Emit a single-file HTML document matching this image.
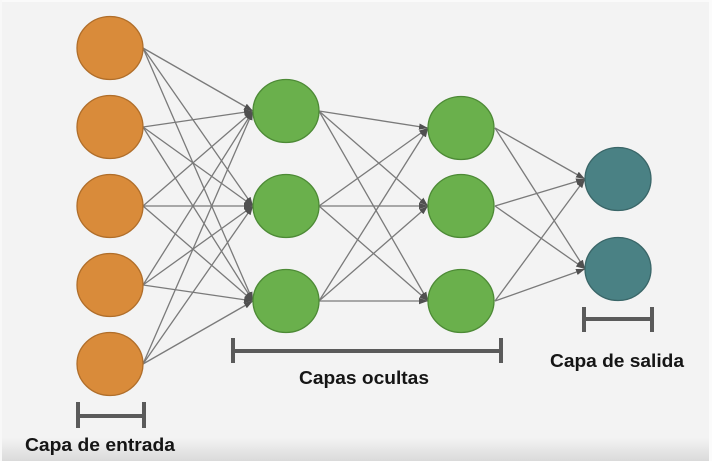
<!DOCTYPE html>
<html><head><meta charset="utf-8"><style>
html,body{margin:0;padding:0;background:#f3f3f3;}
svg{display:block;}
text{font-family:"Liberation Sans",Arial,sans-serif;font-weight:bold;font-size:18px;fill:#151515;}
</style></head><body>
<svg width="712" height="461" viewBox="0 0 712 461" xmlns="http://www.w3.org/2000/svg">
<defs>
<linearGradient id="bg" x1="0" y1="0" x2="0" y2="1">
<stop offset="0" stop-color="#f3f3f3"/><stop offset="1" stop-color="#dadada"/>
</linearGradient>
<marker id="ah" markerUnits="userSpaceOnUse" markerWidth="10" markerHeight="8" refX="9" refY="4" orient="auto">
<path d="M0,0.8 L9,4 L0,7.2 Z" fill="#505050"/>
</marker>
</defs>
<rect width="712" height="461" fill="#f3f3f3"/>
<rect x="0" y="438" width="712" height="23" fill="url(#bg)"/>
<rect x="0" y="0" width="712" height="2" fill="#fafafa"/>
<rect x="709" y="0" width="3" height="461" fill="#fbfbfb"/>
<rect x="0" y="0" width="2" height="461" fill="#f8f8f8"/>
<g stroke="#7a7a7a" stroke-width="1.3" fill="none" marker-end="url(#ah)">
<line x1="143" y1="48" x2="253" y2="111"/>
<line x1="143" y1="48" x2="253" y2="206"/>
<line x1="143" y1="48" x2="253" y2="301"/>
<line x1="143" y1="127" x2="253" y2="111"/>
<line x1="143" y1="127" x2="253" y2="206"/>
<line x1="143" y1="127" x2="253" y2="301"/>
<line x1="143" y1="206" x2="253" y2="111"/>
<line x1="143" y1="206" x2="253" y2="206"/>
<line x1="143" y1="206" x2="253" y2="301"/>
<line x1="143" y1="285" x2="253" y2="111"/>
<line x1="143" y1="285" x2="253" y2="206"/>
<line x1="143" y1="285" x2="253" y2="301"/>
<line x1="143" y1="364" x2="253" y2="111"/>
<line x1="143" y1="364" x2="253" y2="206"/>
<line x1="143" y1="364" x2="253" y2="301"/>
<line x1="319" y1="111" x2="428" y2="128"/>
<line x1="319" y1="111" x2="428" y2="206"/>
<line x1="319" y1="111" x2="428" y2="301"/>
<line x1="319" y1="206" x2="428" y2="128"/>
<line x1="319" y1="206" x2="428" y2="206"/>
<line x1="319" y1="206" x2="428" y2="301"/>
<line x1="319" y1="301" x2="428" y2="128"/>
<line x1="319" y1="301" x2="428" y2="206"/>
<line x1="319" y1="301" x2="428" y2="301"/>
<line x1="495" y1="128" x2="585" y2="179"/>
<line x1="495" y1="128" x2="585" y2="269"/>
<line x1="495" y1="206" x2="585" y2="179"/>
<line x1="495" y1="206" x2="585" y2="269"/>
<line x1="495" y1="301" x2="585" y2="179"/>
<line x1="495" y1="301" x2="585" y2="269"/>
</g>
<g fill="#d98b3a" stroke="#b06e2a" stroke-width="1.3">
<ellipse cx="110" cy="48" rx="33" ry="31.5"/>
<ellipse cx="110" cy="127" rx="33" ry="31.5"/>
<ellipse cx="110" cy="206" rx="33" ry="31.5"/>
<ellipse cx="110" cy="285" rx="33" ry="31.5"/>
<ellipse cx="110" cy="364" rx="33" ry="31.5"/>
</g>
<g fill="#6ab04c" stroke="#4d8a36" stroke-width="1.3">
<ellipse cx="286" cy="111" rx="33" ry="31.5"/>
<ellipse cx="286" cy="206" rx="33" ry="31.5"/>
<ellipse cx="286" cy="301" rx="33" ry="31.5"/>
<ellipse cx="461" cy="128" rx="33" ry="31.5"/>
<ellipse cx="461" cy="206" rx="33" ry="31.5"/>
<ellipse cx="461" cy="301" rx="33" ry="31.5"/>
</g>
<g fill="#4a8184" stroke="#3a6668" stroke-width="1.3">
<ellipse cx="618" cy="179" rx="33" ry="31.5"/>
<ellipse cx="618" cy="269" rx="33" ry="31.5"/>
</g>
<g stroke="#5a5a5a" stroke-width="4" fill="none">
<path d="M78,402 V428 M144,402 V428 M78,416 H144"/>
<path d="M233,338 V363 M501,338 V363 M233,351 H501"/>
<path d="M584,307 V332 M652,307 V332 M584,319 H652"/>
</g>
<text x="25" y="451" textLength="150" lengthAdjust="spacingAndGlyphs">Capa de entrada</text>
<text x="299" y="384" textLength="130" lengthAdjust="spacingAndGlyphs">Capas ocultas</text>
<text x="550" y="367" textLength="134" lengthAdjust="spacingAndGlyphs">Capa de salida</text>
</svg>
</body></html>
